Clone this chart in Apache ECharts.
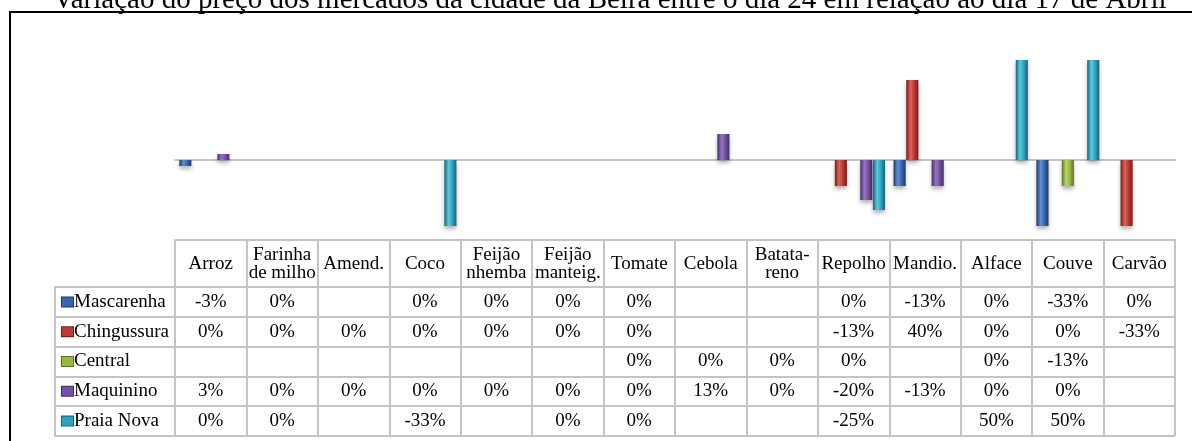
<!DOCTYPE html>
<html>
<head>
<meta charset="utf-8">
<title>Variação do preço dos mercados</title>
<script src="https://cdn.jsdelivr.net/npm/echarts@6/dist/echarts.min.js"></script>
<style>
  html, body { margin: 0; padding: 0; background: #fff; }
  #chart { width: 1192px; height: 441px; }
</style>
</head>
<body>
<div id="chart"></div>
<script>
// produtos (colunas da tabela)
var categories = ["Arroz", "Farinha de milho", "Amend.", "Coco", "Feijão nhemba", "Feijão manteig.",
  "Tomate", "Cebola", "Batata-reno", "Repolho", "Mandio.", "Alface", "Couve", "Carvão"];
var headerLabels = ["Arroz", "Farinha\nde milho", "Amend.", "Coco", "Feijão\nnhemba", "Feijão\nmanteig.",
  "Tomate", "Cebola", "Batata-\nreno", "Repolho", "Mandio.", "Alface", "Couve", "Carvão"];

// mercados
var markets = ["Mascarenha", "Chingussura", "Central", "Maquinino", "Praia Nova"];

// variação em % (null = sem dado)
var mascarenha = [-3, 0, null, 0, 0, 0, 0, null, null, 0, -13, 0, -33, 0];
var chingussura = [0, 0, 0, 0, 0, 0, 0, null, null, -13, 40, 0, 0, -33];
var central = [null, null, null, null, null, null, 0, 0, 0, 0, null, 0, -13, null];
var maquinino = [3, 0, 0, 0, 0, 0, 0, 13, 0, -20, -13, 0, 0, null];
var praiaNova = [0, 0, null, -33, null, 0, 0, null, null, -25, null, 50, 50, null];

var values = [mascarenha, chingussura, central, maquinino, praiaNova];

// cores [base, escuro, claro]
var colors = [
  ["#3867b0", "#1d3a6b", "#6090d4"],
  ["#be3a34", "#761c19", "#dc625b"],
  ["#98b844", "#5b7224", "#bcd870"],
  ["#7452a0", "#442e68", "#9676c2"],
  ["#2fa3be", "#156477", "#62c7de"]
];

var font = "'Liberation Serif', 'Times New Roman', serif";
var gridColor = "#c4c4c4";
var tableFont = 19;

function barColor(c) {
  return new echarts.graphic.LinearGradient(0, 0, 1, 0, [
    { offset: 0, color: c[1] },
    { offset: 0.35, color: c[2] },
    { offset: 0.65, color: c[0] },
    { offset: 1, color: c[1] }
  ]);
}

var chart = echarts.init(document.getElementById("chart"));

var series = markets.map(function (name, i) {
  return {
    name: name,
    type: "bar",
    xAxisIndex: 0,
    yAxisIndex: 0,
    data: values[i],
    barGap: "5%",
    barCategoryGap: "12%",
    itemStyle: {
      color: barColor(colors[i]),
      shadowBlur: 4,
      shadowOffsetY: 3,
      shadowColor: "rgba(0,0,0,0.3)"
    }
  };
});

// células da tabela de dados
var cells = [];
values.forEach(function (row, r) {
  row.forEach(function (v, c) {
    if (v !== null) cells.push([c, r, v]);
  });
});

series.push({
  type: "custom",
  xAxisIndex: 1,
  yAxisIndex: 1,
  data: cells,
  encode: { x: 0, y: 1 },
  silent: true,
  renderItem: function (params, api) {
    var p = api.coord([api.value(0), api.value(1)]);
    return {
      type: "text",
      x: p[0],
      y: p[1],
      style: {
        text: api.value(2) + "%",
        align: "center",
        verticalAlign: "middle",
        fontSize: tableFont,
        fontFamily: font,
        fill: "#000"
      }
    };
  }
});

var rich = { t: { fontSize: tableFont, fontFamily: font, color: "#000", padding: [0, 0, 0, 1] } };
colors.forEach(function (c, i) {
  rich["m" + i] = { width: 11, height: 9, backgroundColor: c[0], borderColor: c[1], borderWidth: 1 };
});

var option = {
  animation: false,
  backgroundColor: "#fff",
  title: {
    text: "Variação do preço dos mercados da cidade da Beira entre o dia 24 em relação ao dia 17 de Abril",
    left: 53,
    top: -14,
    padding: 0,
    textStyle: { fontSize: 29, fontWeight: "normal", fontFamily: font, color: "#000" }
  },
  graphic: [{
    type: "rect",
    z: -1,
    shape: { x: 10, y: 12, width: 1200, height: 450 },
    style: { fill: "none", stroke: "#000", lineWidth: 2 }
  }],
  grid: [
    { left: 175, right: 17, top: 40, height: 200 },
    { left: 175, right: 17, top: 287, bottom: 5 }
  ],
  xAxis: [
    {
      gridIndex: 0,
      type: "category",
      data: categories,
      axisLine: { onZero: true, lineStyle: { color: gridColor, width: 2 } },
      axisTick: { show: false },
      axisLabel: { show: false },
      splitLine: { show: false }
    },
    {
      gridIndex: 1,
      type: "category",
      position: "top",
      data: headerLabels,
      axisLine: { lineStyle: { color: gridColor, width: 2 } },
      axisTick: { show: true, interval: 0, length: 47, lineStyle: { color: gridColor, width: 2 } },
      axisLabel: {
        interval: 0,
        margin: 23,
        verticalAlign: "middle",
        fontSize: tableFont,
        lineHeight: 18,
        fontFamily: font,
        color: "#000"
      },
      splitLine: { show: true, interval: 0, lineStyle: { color: gridColor, width: 2 } }
    },
    {
      gridIndex: 1,
      type: "category",
      position: "top",
      offset: 47,
      data: headerLabels,
      axisLine: { lineStyle: { color: gridColor, width: 2 } },
      axisTick: { show: false },
      axisLabel: { show: false }
    }
  ],
  yAxis: [
    {
      gridIndex: 0,
      type: "value",
      min: -40,
      max: 60,
      show: false
    },
    {
      gridIndex: 1,
      type: "category",
      inverse: true,
      data: markets,
      axisLine: { lineStyle: { color: gridColor, width: 2 } },
      axisTick: { show: true, interval: 0, length: 120, lineStyle: { color: gridColor, width: 2 } },
      axisLabel: {
        interval: 0,
        align: "left",
        margin: 113,
        formatter: function (v, i) { return "{m" + i + "|}{t|" + v + "}"; },
        rich: rich
      },
      splitLine: { show: true, interval: 0, lineStyle: { color: gridColor, width: 2 } }
    },
    {
      gridIndex: 1,
      type: "category",
      inverse: true,
      position: "left",
      offset: 120,
      data: markets,
      axisLine: { lineStyle: { color: gridColor, width: 2 } },
      axisTick: { show: false },
      axisLabel: { show: false }
    }
  ],
  series: series
};

chart.setOption(option);
</script>
</body>
</html>
